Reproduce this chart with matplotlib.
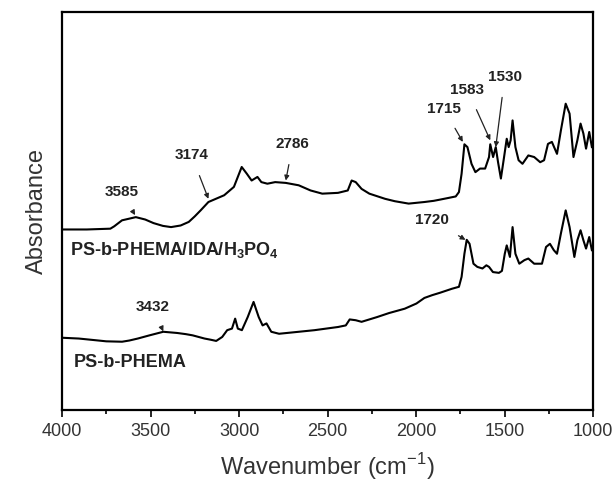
import matplotlib
matplotlib.use("Agg")
import matplotlib.pyplot as plt
from matplotlib.ticker import MultipleLocator

plt.rcParams['font.family'] = ['Liberation Sans', 'DejaVu Sans']
plt.rcParams['mathtext.fontset'] = 'custom'
plt.rcParams['mathtext.rm'] = 'Liberation Sans'
plt.rcParams['mathtext.bf'] = 'Liberation Sans:bold'

# Upper spectrum: PS-b-PHEMA/IDA/H3PO4
wn_upper = [4000, 3860, 3727, 3705, 3661, 3583, 3530, 3483, 3430, 3384, 3330, 3284, 3250, 3217,
            3173, 3084, 3029, 3007, 2985, 2956, 2929, 2896, 2874, 2840, 2796, 2736, 2663, 2596,
            2530, 2441, 2386, 2364, 2341, 2308, 2264, 2175, 2120, 2042, 1953, 1900, 1865, 1820,
            1776, 1758, 1743, 1727, 1710, 1687, 1665, 1639, 1610, 1588, 1581, 1565, 1550, 1537,
            1521, 1503, 1488, 1477, 1466, 1455, 1439, 1421, 1399, 1366, 1333, 1299, 1277, 1255,
            1233, 1204, 1182, 1155, 1133, 1111, 1089, 1071, 1055, 1040, 1022, 1007]
abs_upper = [0.454, 0.454, 0.456, 0.462, 0.477, 0.485, 0.479, 0.470, 0.463, 0.460, 0.464, 0.473,
             0.487, 0.502, 0.523, 0.540, 0.561, 0.586, 0.611, 0.594, 0.577, 0.586, 0.573, 0.569,
             0.573, 0.571, 0.565, 0.552, 0.544, 0.546, 0.552, 0.577, 0.573, 0.556, 0.544, 0.531,
             0.525, 0.519, 0.523, 0.526, 0.529, 0.533, 0.537, 0.548, 0.594, 0.668, 0.661, 0.619,
             0.598, 0.607, 0.607, 0.636, 0.668, 0.636, 0.661, 0.623, 0.582, 0.636, 0.682, 0.661,
             0.678, 0.728, 0.661, 0.628, 0.619, 0.640, 0.636, 0.623, 0.628, 0.669, 0.674, 0.644,
             0.703, 0.770, 0.745, 0.636, 0.678, 0.720, 0.695, 0.657, 0.699, 0.661]

# Lower spectrum: PS-b-PHEMA
wn_lower = [4000, 3905, 3816, 3750, 3661, 3620, 3572, 3506, 3428, 3350, 3300, 3262, 3195, 3160,
            3129, 3095, 3067, 3040, 3022, 3007, 2984, 2951, 2918, 2889, 2867, 2845, 2818, 2774,
            2707, 2574, 2441, 2397, 2375, 2341, 2308, 2220, 2153, 2064, 1998, 1953, 1909, 1865,
            1798, 1758, 1743, 1727, 1714, 1698, 1676, 1654, 1625, 1603, 1588, 1566, 1532, 1515,
            1499, 1488, 1470, 1455, 1439, 1417, 1388, 1366, 1333, 1289, 1266, 1244, 1222, 1204,
            1182, 1155, 1133, 1106, 1089, 1071, 1055, 1040, 1022, 1007]
abs_lower = [0.182, 0.180, 0.176, 0.173, 0.172, 0.175, 0.180, 0.188, 0.197, 0.194, 0.191, 0.188,
             0.180, 0.177, 0.174, 0.184, 0.201, 0.205, 0.230, 0.205, 0.201, 0.234, 0.272, 0.234,
             0.213, 0.218, 0.197, 0.192, 0.195, 0.201, 0.209, 0.213, 0.228, 0.226, 0.222, 0.234,
             0.244, 0.255, 0.268, 0.282, 0.289, 0.295, 0.305, 0.310, 0.335, 0.393, 0.428, 0.418,
             0.368, 0.360, 0.356, 0.364, 0.360, 0.347, 0.345, 0.350, 0.393, 0.414, 0.385, 0.460,
             0.393, 0.368, 0.377, 0.381, 0.368, 0.368, 0.410, 0.418, 0.402, 0.393, 0.444, 0.502,
             0.460, 0.385, 0.427, 0.452, 0.427, 0.406, 0.435, 0.402]

# Peak annotations: label, text position (wn, abs), arrow tip (wn, abs)
ann_labels = ['3585', '3174', '2786', '1715', '1583', '1530', '1720', '3432']
ann_text_wn = [3665, 3268, 2696, 1843, 1710, 1499, 1909, 3488]
ann_text_abs = [0.548, 0.640, 0.669, 0.757, 0.805, 0.838, 0.477, 0.259]
ann_tip_wn = [3587, 3173, 2736, 1736, 1581, 1550, 1721, 3428]
ann_tip_abs = [0.490, 0.531, 0.577, 0.674, 0.678, 0.661, 0.428, 0.198]

series_labels = [r'PS-b-PHEMA/IDA/H$_\mathbf{3}$PO$_\mathbf{4}$', 'PS-b-PHEMA']
series_label_wn = [3953, 3931]
series_label_abs = [0.403, 0.119]

fig = plt.figure(figsize=(6.14, 4.86), dpi=100)
ax = fig.add_axes([0.101, 0.156, 0.865, 0.819])

ax.plot(wn_upper, abs_upper, color='black', lw=1.5)
ax.plot(wn_lower, abs_lower, color='black', lw=1.5)

ax.set_xlim(4000, 1000)
ax.set_ylim(0, 1)
ax.xaxis.set_major_locator(MultipleLocator(500))
ax.xaxis.set_minor_locator(MultipleLocator(250))
ax.set_yticks([])
ax.tick_params(axis='x', which='major', direction='out', length=5, width=1.2,
               labelsize=13, labelcolor='#333333', pad=4)
ax.tick_params(axis='x', which='minor', direction='out', length=3, width=1.2)
for s in ax.spines.values():
    s.set_linewidth(1.6)

for lab, tx, ty, hx, hy in zip(ann_labels, ann_text_wn, ann_text_abs, ann_tip_wn, ann_tip_abs):
    ax.annotate(lab, xy=(hx, hy), xytext=(tx, ty), ha='center', va='center',
                fontsize=11, fontweight='bold', color='#222222',
                arrowprops=dict(arrowstyle='-|>', color='#222222', lw=0.9,
                                mutation_scale=7, shrinkA=8, shrinkB=0))

for lab, x, y in zip(series_labels, series_label_wn, series_label_abs):
    ax.text(x, y, lab, ha='left', va='center', fontsize=13, fontweight='bold', color='#222222')

ax.set_xlabel('Wavenumber (cm$^{-1}$)', fontsize=17, color='#333333', labelpad=8)
ax.set_ylabel('Absorbance', fontsize=17, color='#333333', labelpad=10)

fig.savefig('out.png', dpi=100)
